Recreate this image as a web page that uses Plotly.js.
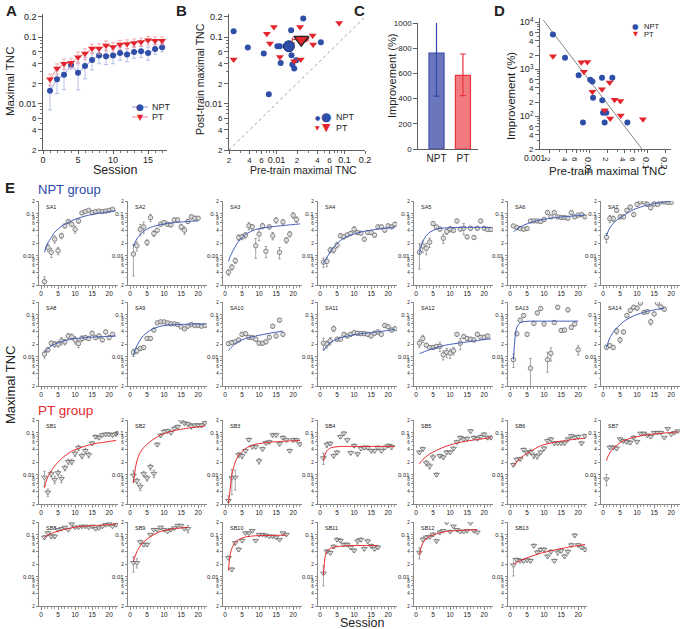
<!DOCTYPE html>
<html><head><meta charset="utf-8">
<script src="https://cdn.plot.ly/plotly-3.0.1.min.js"></script>
<style>body{margin:0;background:#fff}#chart{width:683px;height:629px}</style>
</head><body><div id="chart"></div><script>
// ---------- Panel A: mean maximal TNC per session ----------
const sessionsA = [1,2,3,4,5,6,7,8,9,10,11,12,13,14,15,16,17];
const nptA = [0.0155,0.0231,0.0271,0.0378,0.029,0.0365,0.045,0.0526,0.0515,0.0526,0.0576,0.0545,0.0597,0.061,0.0576,0.0662,0.07];
const nptAErr = [0.0075,0.009,0.011,0.005,0.013,0.013,0.013,0.013,0.013,0.013,0.013,0.012,0.012,0.012,0.013,0.011,0.01];
const ptA = [0.0231,0.0335,0.0396,0.041,0.0497,0.0563,0.067,0.067,0.0742,0.0709,0.077,0.0786,0.0814,0.0843,0.0892,0.0882,0.0882];
const ptAErr = [0.0045,0.006,0.007,0.006,0.01,0.01,0.011,0.012,0.013,0.012,0.012,0.012,0.012,0.012,0.013,0.012,0.012];

// ---------- Panels B & D: per subject ----------
const preNPT  = [0.00234,0.00378,0.00649,0.0077,0.0103,0.0112,0.0115,0.0164,0.0166,0.0171,0.0182,0.0194,0.0247,0.0449];
const postNPT = [0.122,0.0693,0.0564,0.0138,0.0726,0.0726,0.0408,0.126,0.053,0.0385,0.0336,0.0448,0.189,0.0834];
const imprNPT = [5470,1742,745,73,593,547,246,655,219,118,73,118,655,73];
const prePT   = [0.00234,0.00721,0.00916,0.008,0.0112,0.0164,0.0222,0.027,0.034,0.0182,0.0227,0.0345,0.0834];
const postPT  = [0.0458,0.112,0.141,0.0796,0.0502,0.0779,0.141,0.0925,0.105,0.0433,0.0458,0.077,0.163];
const imprPT  = [1890,1410,1420,877,330,375,520,223,209,134,89,103,86];
const meanPre  = [0.0152,0.0231];
const meanPost = [0.0726,0.0913];
const meanPreErr  = [0.0025,0.006];
const meanPostErr = [0.011,0.011];
const identityLine = [0.002,0.2];
const fitDx = [0.0016,0.0802];
const fitDy = [11000,20];

// ---------- Panel C ----------
const groups = ['NPT','PT'];
const improvement = [762,585];
const improvementUp = [246,169];
const improvementDown = [342,162];

// ---------- Panel E ----------
const fitGrid = [1,1.5,2,3,4,6,9,13,17,18,20,22];
const nptNames = ['SA1','SA2','SA3','SA4','SA5','SA6','SA7','SA8','SA9','SA10','SA11','SA12','SA13','SA14'];
const nptMeans = [
 [0.0024,0.0157,0.012,0.0247,0.0131,0.0297,0.0511,0.0648,0.056,0.0426,0.067,0.104,0.112,0.12,0.106,0.112,0.115,0.112,0.115,0.12,0.127],
 [0.0109,0.0172,0.0426,0.0484,0.0207,0.0804,0.0337,0.0404,0.056,0.0613,0.056,0.054,0.0709,0.0709,0.0484,0.0404,0.065,0.084,0.078,0.078],
 [0.004,0.0053,0.0076,0.0271,0.0281,0.0308,0.0511,0.0484,0.0172,0.0325,0.0511,0.0127,0.0484,0.0297,0.0698,0.012,0.0637,0.0234,0.0325,0.0915,0.0724],
 [0.007,0.0073,0.0136,0.0136,0.0178,0.0297,0.0281,0.0313,0.0337,0.0426,0.0355,0.0343,0.0247,0.0355,0.0355,0.0308,0.0484,0.0484,0.0404,0.0511,0.0484,0.056],
 [0.012,0.017,0.015,0.021,0.058,0.048,0.043,0.026,0.0375,0.043,0.04,0.067,0.043,0.045,0.028,0.045,0.027,0.045,0.067,0.045,0.042,0.042],
 [0.051,0.0467,0.0442,0.0426,0.0442,0.067,0.067,0.067,0.065,0.073,0.106,0.084,0.106,0.084,0.081,0.081,0.078,0.106,0.084,0.092,0.095,0.084],
 [0.0271,0.076,0.076,0.12,0.084,0.084,0.12,0.143,0.095,0.166,0.19,0.19,0.166,0.138,0.17,0.166,0.19,0.19,0.185,0.185],
 [0.0115,0.0146,0.0209,0.0198,0.0198,0.0237,0.0225,0.0311,0.0299,0.025,0.0205,0.0271,0.0284,0.0271,0.0361,0.0284,0.0311,0.025,0.0387,0.0284,0.034],
 [0.0126,0.0138,0.0156,0.0165,0.0271,0.0271,0.043,0.0638,0.0673,0.0673,0.0638,0.0604,0.0604,0.058,0.0514,0.046,0.053,0.058,0.055,0.055,0.053,0.055],
 [0.0205,0.0217,0.0225,0.025,0.034,0.0353,0.029,0.0284,0.026,0.0209,0.0209,0.0225,0.029,0.053,0.031,0.074,0.034],
 [0.0209,0.0198,0.0237,0.0461,0.026,0.026,0.034,0.0311,0.034,0.0372,0.0361,0.0353,0.0353,0.034,0.0311,0.0361,0.0387,0.034,0.0553,0.0514,0.043,0.0461],
 [0.0209,0.027,0.0188,0.0165,0.0165,0.0176,0.0176,0.0111,0.0126,0.0121,0.0138,0.034,0.0209,0.03,0.027,0.026,0.025,0.034,0.029,0.029,0.031],
 [0.0085,0.035,0.074,0.095,0.034,0.0053,0.062,0.11,0.14,0.06,0.0085,0.012,0.065,0.15,0.042,0.043,0.13,0.05,0.06,0.0146],
 [0.0167,0.0183,0.0165,0.0406,0.025,0.0387,0.0952,0.126,0.15,0.143,0.189,0.113,0.118,0.0673,0.104,0.19,0.152,0.135]
];
const nptRelErr = [
 [.3,.2,.25,.2,.2,.15,.1,.1,.12,.2,.12,.05,.05,.05,.05,.05,.05,.05,.05,.05,.05],
 [.7,.25,.3,.3,.15,.2,.15,.1,.1,.1,.1,.1,.1,.1,.15,.2,.1,.1,.1,.1],
 [.15,.15,.15,.15,.15,.15,.2,.15,.5,.3,.15,.3,.1,.2,.15,.3,.12,.15,.15,.15,.15],
 [.25,.25,.15,.15,.15,.1,.1,.1,.1,.15,.1,.1,.1,.1,.1,.1,.1,.1,.1,.1,.1,.1],
 [.6,.3,.3,.25,.1,.1,.1,.25,.15,.15,.1,.1,.1,.3,.1,.1,.1,.1,.1,.1,.1,.1],
 [.08,.08,.08,.08,.08,.08,.08,.08,.08,.08,.08,.08,.08,.08,.08,.08,.08,.08,.08,.08,.08,.08],
 [.25,.2,.15,.1,.1,.1,.1,.1,.1,.1,.05,.05,.1,.1,.1,.05,.05,.05,.05,.05],
 [.2,.12,.12,.15,.15,.2,.15,.15,.15,.2,.2,.15,.1,.1,.1,.1,.1,.1,.1,.1,.1],
 [.2,.15,.1,.1,.1,.1,.1,.05,.05,.05,.05,.05,.05,.05,.05,.05,.05,.05,.05,.05,.05,.05],
 [.1,.1,.1,.1,.1,.1,.1,.1,.1,.1,.1,.1,.1,.1,.1,.1,.1],
 [.3,.2,.2,.15,.1,.1,.1,.1,.1,.1,.1,.1,.1,.1,.1,.1,.1,.1,.1,.1,.1,.1],
 [.2,.2,.1,.1,.1,.1,.25,.25,.25,.25,.2,.1,.3,.1,.1,.1,.1,.1,.1,.1,.1],
 [.35,.1,.1,.1,.1,.7,.1,.1,.1,.1,.5,.35,.1,.1,.1,.1,.1,.1,.1,.25],
 [.1,.1,.1,.15,.15,.1,.1,.1,.1,.1,.1,.1,.1,.15,.1,.1,.1,.1]
];
const nptFits = [
 [0.012,0.016,0.02,0.027,0.036,0.05,0.068,0.088,0.102,0.105,0.111,0.117],
 [0.0163,0.021,0.025,0.032,0.038,0.047,0.055,0.061,0.065,0.066,0.067,null],
 [0.0073,0.0095,0.0115,0.0165,0.022,0.032,0.042,0.048,0.052,0.053,0.055,0.057],
 [0.0066,0.0078,0.009,0.0125,0.016,0.023,0.031,0.038,0.043,0.044,0.046,0.048],
 [0.011,0.017,0.022,0.03,0.036,0.043,0.046,0.047,0.047,0.047,0.047,0.047],
 [0.0376,0.04,0.043,0.048,0.053,0.061,0.071,0.08,0.086,0.087,0.09,0.092],
 [0.0297,0.038,0.046,0.059,0.07,0.09,0.125,0.16,0.185,0.19,0.198,null],
 [0.0126,0.014,0.0155,0.018,0.0198,0.0228,0.0262,0.0284,0.0298,0.03,0.0305,0.031],
 [0.0106,0.0145,0.018,0.025,0.032,0.043,0.053,0.058,0.059,0.0595,0.06,0.06],
 [0.0138,0.0155,0.017,0.0205,0.023,0.027,0.031,0.036,0.0406,null,null,null],
 [0.0138,0.016,0.018,0.0215,0.024,0.028,0.032,0.036,0.039,0.04,0.042,0.045],
 [0.0118,0.0122,0.0127,0.0137,0.0147,0.0165,0.019,0.0213,0.0236,0.0242,0.0255,0.0265],
 [0.0085,0.03,0.05,0.064,0.068,0.07,0.07,0.07,0.07,0.07,0.07,null],
 [0.0165,0.022,0.028,0.038,0.048,0.068,0.094,0.12,0.138,0.143,null,null]
];
const ptNames = ['SB1','SB2','SB3','SB4','SB5','SB6','SB7','SB8','SB9','SB10','SB11','SB12','SB13'];
const ptMeans = [
 [0.0086,0.0038,0.0104,0.0076,0.011,0.008,0.0145,0.0203,0.0203,0.0319,0.0439,0.028,0.037,0.0296,0.056,0.08,0.076,0.088,0.091,0.091,0.088,0.093],
 [0.0096,0.0071,0.0052,0.0104,0.0083,0.0153,0.0106,0.052,0.086,0.106,0.11,0.1,0.126,0.138,0.19,0.168,0.16,0.143,0.15,0.15,0.15,0.17],
 [0.0024,0.0083,0.0086,0.0296,0.028,0.037,0.068,0.046,0.046,0.021,0.041,0.057,0.06,0.088,0.088,0.054,0.076,0.067,0.037,0.067,0.067,0.053],
 [0.025,0.052,0.055,0.028,0.034,0.08,0.096,0.067,0.033,0.049,0.031,0.042,0.044,0.044,0.037,0.037,0.044,0.037,0.044,0.049,0.046],
 [0.034,0.041,0.019,0.016,0.026,0.01,0.028,0.026,0.034,0.034,0.042,0.06,0.076,0.07,0.072,0.109,0.076,0.072,0.08,0.091,0.076,0.076],
 [0.0172,0.0229,0.0237,0.0392,0.0328,0.0352,0.0284,0.0274,0.034,0.0421,0.0636,0.0698,0.0562,0.0562,0.0562,0.0562,0.0698,0.0836,0.0763,0.08,0.0562,0.0836],
 [0.0078,0.0445,0.0445,0.0421,0.0698,0.0636,0.0605,0.0582,0.0763,0.0605,0.096,0.096,0.0867,0.08,0.1,0.1,0.1,0.0763,0.124,0.0912,0.1,0.109],
 [0.0866,0.109,0.091,0.091,0.131,0.138,0.149,0.131,0.178,0.149,0.149,0.157,0.157,0.149,0.157,0.138,0.144,0.157,0.172,0.178,0.157,0.172],
 [0.0214,0.0214,0.0671,0.058,0.058,0.1,0.131,0.131,0.149,0.131,0.12,0.131,0.144,0.165,0.165,0.138,0.138],
 [0.0281,0.0149,0.0635,0.0442,0.072,0.109,0.109,0.124,0.072,0.1,0.1,0.0963,0.091,0.091,0.0866,0.076,0.109,0.1],
 [0.012,0.04,0.037,0.052,0.076,0.072,0.058,0.058,0.05,0.042,0.07,0.076,0.046,0.07,0.054,0.046,0.05],
 [0.0376,0.0771,0.0867,0.0886,0.101,0.0706,0.114,0.124,0.194,0.118,0.158,0.131,0.118,0.118,0.124,0.19,0.124,0.114],
 [0.0188,0.0253,0.0239,0.0239,0.0248,0.0239,0.0546,0.0379,0.0442,0.0442,0.0305,0.0394,0.0239,0.0379,0.0414,0.0305,0.0394,0.0567,0.0962,0.0567,0.0497,0.0442]
];
const ptRelErr = [
 [.4,.2,.15,.2,.15,.2,.15,.15,.15,.15,.15,.15,.15,.15,.1,.1,.1,.1,.1,.1,.1,.1],
 [.3,.15,.2,.15,.15,.15,.2,.1,.1,.1,.1,.1,.1,.1,.1,.1,.1,.15,.1,.1,.1,.1],
 [.3,.6,.5,.15,.15,.1,.1,.1,.1,.15,.1,.1,.1,.1,.1,.1,.1,.1,.1,.1,.1,.1],
 [.3,.15,.1,.1,.1,.1,.1,.1,.1,.1,.1,.1,.1,.1,.1,.1,.1,.1,.1,.1,.15],
 [.1,.1,.15,.15,.15,.1,.1,.1,.1,.1,.1,.1,.1,.1,.1,.1,.1,.1,.1,.1,.1,.1],
 [.1,.1,.1,.1,.15,.15,.15,.15,.1,.1,.1,.1,.1,.1,.1,.1,.1,.1,.1,.1,.1,.1],
 [.3,.1,.1,.1,.1,.1,.1,.1,.1,.1,.05,.05,.05,.05,.05,.05,.05,.05,.05,.05,.05,.05],
 [.1,.1,.1,.1,.05,.05,.05,.05,.05,.05,.05,.05,.05,.05,.05,.05,.05,.05,.05,.05,.05,.05],
 [.4,.25,.1,.1,.1,.05,.05,.05,.05,.05,.05,.05,.05,.05,.05,.05,.2],
 [.1,.1,.1,.1,.1,.05,.05,.05,.05,.05,.05,.05,.05,.05,.05,.05,.05,.05],
 [.5,.1,.1,.1,.1,.1,.1,.1,.1,.1,.15,.1,.1,.1,.1,.1,.1],
 [.3,.1,.1,.1,.1,.1,.1,.05,.05,.05,.05,.05,.05,.05,.05,.05,.05,.05],
 [.45,.1,.1,.1,.1,.1,.1,.1,.1,.1,.1,.1,.1,.15,.1,.1,.1,.1,.1,.1,.1,.1]
];
const ptFits = [
 [0.0049,0.007,0.0088,0.0125,0.016,0.024,0.036,0.048,0.057,0.058,0.062,0.065],
 [0.0063,0.013,0.021,0.034,0.044,0.062,0.088,0.112,0.128,0.131,0.137,0.143],
 [0.0021,0.0045,0.01,0.02,0.029,0.042,0.053,0.059,0.062,0.063,0.064,0.065],
 [0.021,0.031,0.037,0.043,0.045,0.047,0.047,0.047,0.047,0.047,0.047,0.047],
 [0.018,0.0205,0.023,0.027,0.031,0.038,0.048,0.059,0.067,0.069,0.072,0.076],
 [0.0159,0.018,0.0202,0.0245,0.0284,0.036,0.0487,0.059,0.066,0.068,0.071,0.0736],
 [0.0216,0.028,0.033,0.042,0.05,0.064,0.077,0.089,0.096,0.098,0.101,0.104],
 [0.087,0.092,0.097,0.106,0.114,0.128,0.146,0.16,0.167,0.169,0.173,0.178],
 [0.0235,0.031,0.039,0.054,0.067,0.09,0.12,0.138,0.149,null,null,null],
 [0.014,0.033,0.047,0.066,0.0762,0.088,0.094,0.096,0.0963,0.0965,null,null],
 [0.011,0.03,0.04,0.047,0.05,0.053,0.055,0.055,0.055,null,null,null],
 [0.034,0.05,0.063,0.08,0.09,0.105,0.12,0.127,0.13,0.131,null,null],
 [0.02,0.021,0.022,0.024,0.026,0.03,0.036,0.043,0.05,0.052,0.055,0.0585]
];

// ---------- Layout helpers ----------
const W=683,H=629;
const FONT='"Liberation Sans", Arial, sans-serif';
const BLUE='#2f4ea8', RED='#e3262d', AX='#3a3a3a', MK='#6a6a6a';
const L=Math.log10;
const px=x=>x/W, py=y=>1-y/H;
const xd=(a,b)=>[a/W,b/W], yd=(t,b)=>[1-b/H,1-t/H];
const sp=(t,s)=>'<span style="font-size:'+s+'px">'+t+'</span>';

const layout={width:W,height:H,margin:{l:0,r:0,t:0,b:0},paper_bgcolor:'#fff',plot_bgcolor:'rgba(0,0,0,0)',
  showlegend:false,barmode:'overlay',font:{family:FONT,color:'#222'},annotations:[],shapes:[]};
const traces=[];
function ax(extra){return Object.assign({showline:true,linecolor:AX,linewidth:0.8,ticks:'outside',tickcolor:AX,tickwidth:0.8,
  showgrid:false,zeroline:false,fixedrange:true,tickfont:{family:FONT,size:9,color:'#222'}},extra);}
function ann(text,x,y,size,o){layout.annotations.push(Object.assign({text,x:px(x),y:py(y),xref:'paper',yref:'paper',showarrow:false,
  xanchor:'center',yanchor:'middle',font:{family:FONT,size:size,color:'#222'}},o||{}));}

// tick sets
const logTV=[0.002,0.004,0.006,0.01,0.02,0.04,0.06,0.1,0.2];
const logTT=[sp('2',8),sp('4',8),sp('6',8),'0.01',sp('2',8),sp('4',8),sp('6',8),'0.1','0.2'];
const logMinor=[0.003,0.005,0.007,0.008,0.009,0.03,0.05,0.07,0.08,0.09];

// ---------- A ----------
layout.xaxis=ax({domain:xd(43,167),range:[0,17.7],anchor:'y',tickmode:'linear',tick0:0,dtick:5,ticklen:3,ticklabelstandoff:-2,
  minor:{tickmode:'linear',tick0:0,dtick:1,ticklen:2,ticks:'outside',tickcolor:AX,tickwidth:0.7}});
layout.yaxis=ax({domain:yd(14,150),type:'log',range:[L(0.002),L(0.2)+3/67],anchor:'x',tickmode:'array',tickvals:logTV,ticktext:logTT,ticklen:4,
  minor:{tickmode:'array',tickvals:logMinor,ticklen:2,ticks:'outside',tickcolor:AX,tickwidth:0.7}});
traces.push({type:'scatter',mode:'lines+markers',x:sessionsA,y:nptA,xaxis:'x',yaxis:'y',line:{color:'#8f9dd8',width:1},
  marker:{color:BLUE,size:6},error_y:{type:'data',array:nptAErr,color:'#a3afe0',thickness:0.8,width:2}});
traces.push({type:'scatter',mode:'lines+markers',x:sessionsA,y:ptA,xaxis:'x',yaxis:'y',line:{color:'#f08a8e',width:1},
  marker:{color:RED,size:7,symbol:'triangle-down'},error_y:{type:'data',array:ptAErr,color:'#f39a9d',thickness:0.8,width:2}});

// ---------- B ----------
layout.xaxis2=ax({domain:xd(229,365),type:'log',range:[L(0.002),L(0.2)],anchor:'y2',tickmode:'array',tickvals:logTV,ticktext:logTT,ticklen:3,ticklabelstandoff:-2,
  minor:{tickmode:'array',tickvals:logMinor,ticklen:2,ticks:'outside',tickcolor:AX,tickwidth:0.7}});
layout.yaxis2=ax({domain:yd(14,150),type:'log',range:[L(0.002),L(0.2)+3/67],anchor:'x2',tickmode:'array',tickvals:logTV,ticktext:logTT,ticklen:4,
  minor:{tickmode:'array',tickvals:logMinor,ticklen:2,ticks:'outside',tickcolor:AX,tickwidth:0.7}});
traces.push({type:'scatter',mode:'lines',x:identityLine,y:identityLine,xaxis:'x2',yaxis:'y2',line:{color:'#888',width:0.8,dash:'dot'}});
traces.push({type:'scatter',mode:'markers',x:preNPT,y:postNPT,xaxis:'x2',yaxis:'y2',marker:{color:BLUE,size:6}});
traces.push({type:'scatter',mode:'markers',x:prePT,y:postPT,xaxis:'x2',yaxis:'y2',marker:{color:RED,size:7,symbol:'triangle-down'}});
traces.push({type:'scatter',mode:'markers',x:[meanPre[0]],y:[meanPost[0]],xaxis:'x2',yaxis:'y2',marker:{color:BLUE,size:11,line:{color:'#1b2d6e',width:1}},
  error_x:{type:'data',array:[meanPreErr[0]],color:BLUE,thickness:1,width:2},error_y:{type:'data',array:[meanPostErr[0]],color:BLUE,thickness:1,width:2}});
traces.push({type:'scatter',mode:'markers',x:[meanPre[1]],y:[meanPost[1]],xaxis:'x2',yaxis:'y2',marker:{color:RED,size:13,symbol:'triangle-down',line:{color:'#222',width:1.3}},
  error_x:{type:'data',array:[meanPreErr[1]],color:RED,thickness:1,width:2},error_y:{type:'data',array:[meanPostErr[1]],color:RED,thickness:1,width:2}});

// ---------- C ----------
layout.xaxis3=ax({domain:xd(418,478),range:[-0.7,1.57],anchor:'y3',type:'category',ticks:'',tickfont:{family:FONT,size:10,color:'#222'}});
layout.yaxis3=ax({domain:yd(23,149),range:[0,1000],anchor:'x3',tickmode:'linear',tick0:0,dtick:200,ticklen:4,tickfont:{family:FONT,size:8,color:'#222'}});
traces.push({type:'bar',x:[groups[0]],y:[improvement[0]],xaxis:'x3',yaxis:'y3',width:0.57,marker:{color:'#6b76bd',line:{color:'#3c4fae',width:1.2}},
  error_y:{type:'data',symmetric:false,array:[improvementUp[0]],arrayminus:[improvementDown[0]],color:'#2f4aa8',thickness:1.2,width:3}});
traces.push({type:'bar',x:[groups[1]],y:[improvement[1]],xaxis:'x3',yaxis:'y3',width:0.57,marker:{color:'#f07a80',line:{color:'#e8353d',width:1.2}},
  error_y:{type:'data',symmetric:false,array:[improvementUp[1]],arrayminus:[improvementDown[1]],color:'#e8353d',thickness:1.2,width:3}});

// ---------- D ----------
layout.xaxis4=ax({domain:xd(540,671),type:'log',range:[L(0.002)-9/58,L(0.002)+122/58],anchor:'y4',tickmode:'array',tickvals:logTV,ticktext:logTT,ticklen:3,ticklabelstandoff:-2,
  minor:{tickmode:'array',tickvals:logMinor,ticklen:2,ticks:'outside',tickcolor:AX,tickwidth:0.7}});
layout.yaxis4=ax({domain:yd(18,149),type:'log',range:[L(20),L(20)+131/47],anchor:'x4',tickmode:'array',
  tickvals:[20,40,60,100,200,400,600,1000,2000,4000,6000,10000],
  ticktext:[sp('2',8),sp('4',8),sp('6',8),'10<sup>2</sup>',sp('2',8),sp('4',8),sp('6',8),'10<sup>3</sup>',sp('2',8),sp('4',8),sp('6',8),'10<sup>4</sup>'],ticklen:4,
  minor:{tickmode:'array',tickvals:[30,50,70,80,90,300,500,700,800,900,3000,5000,7000,8000,9000],ticklen:2,ticks:'outside',tickcolor:AX,tickwidth:0.7}});
traces.push({type:'scatter',mode:'lines',x:fitDx,y:fitDy,xaxis:'x4',yaxis:'y4',line:{color:'#777',width:0.9}});
traces.push({type:'scatter',mode:'markers',x:preNPT,y:imprNPT,xaxis:'x4',yaxis:'y4',marker:{color:BLUE,size:6}});
traces.push({type:'scatter',mode:'markers',x:prePT,y:imprPT,xaxis:'x4',yaxis:'y4',marker:{color:RED,size:7,symbol:'triangle-down'}});

// ---------- E small multiples ----------
const colX=[39,128,223,318,414,508,601];
const rowTop=[201,302,420,522];
const smTV=[0.002,0.004,0.006,0.008,0.01,0.02,0.04,0.06,0.08,0.1,0.2];
const smTT=[sp('2',4.5),sp('4',4.5),sp('6',4.5),sp('8',4.5),'0.01',sp('2',4.5),sp('4',4.5),sp('6',4.5),sp('8',4.5),'0.1',sp('2',4.5)];
const smMinor=[0.003,0.005,0.007,0.009,0.03,0.05,0.07,0.09];
let axn=5;
function addSubject(name,means,rel,fit,col,row,color,symbol){
  const n=axn++; const cx=colX[col], rt=rowTop[row];
  layout['xaxis'+n]=ax({domain:xd(cx,cx+79),range:[-0.6,22.6],anchor:'y'+n,tickmode:'linear',tick0:0,dtick:5,ticklen:3,
    tickfont:{family:FONT,size:6.5,color:'#222'},linewidth:0.6,tickwidth:0.6,
    minor:{tickmode:'linear',tick0:0,dtick:1,ticklen:2,ticks:'outside',tickcolor:AX,tickwidth:0.5}});
  layout['yaxis'+n]=ax({domain:yd(rt,rt+84),type:'log',range:[L(0.002),L(0.2)],anchor:'x'+n,tickmode:'array',tickvals:smTV,ticktext:smTT,
    ticklen:2.5,tickfont:{family:FONT,size:6,color:'#222'},linewidth:0.6,tickwidth:0.6,
    minor:{tickmode:'array',tickvals:smMinor,ticklen:1.5,ticks:'outside',tickcolor:AX,tickwidth:0.5}});
  const sess=means.map((_,i)=>i+1);
  traces.push({type:'scatter',mode:'markers',x:sess,y:means,xaxis:'x'+n,yaxis:'y'+n,
    marker:{symbol:symbol,size:symbol==='circle'?4.5:5,color:'rgba(225,225,225,0.7)',line:{color:MK,width:0.8}},
    error_y:{type:'data',array:means.map((v,i)=>v*rel[i]),color:MK,thickness:0.6,width:1.2}});
  traces.push({type:'scatter',mode:'lines',x:fitGrid,y:fit,xaxis:'x'+n,yaxis:'y'+n,line:{color:color,width:1,shape:'spline',smoothing:0.7}});
  ann(name,cx+5,rt+6,5.5,{xanchor:'left'});
}
nptNames.forEach((nm,i)=>addSubject(nm,nptMeans[i],nptRelErr[i],nptFits[i],i%7,Math.floor(i/7),'#3d5bb8','circle'));
ptNames.forEach((nm,i)=>addSubject(nm,ptMeans[i],ptRelErr[i],ptFits[i],i%7,2+Math.floor(i/7),'#e8262d','triangle-down'));

// ---------- text ----------
const bold=(t)=>'<b>'+t+'</b>';
ann(bold('A'),4,10,15,{xanchor:'left'});
ann(bold('B'),174,10,15,{xanchor:'left'});
ann(bold('C'),352,10,15,{xanchor:'left'});
ann(bold('D'),492,10,15,{xanchor:'left'});
ann(bold('E'),3,187,15,{xanchor:'left'});
ann('Maximal TNC',10,82,11.5,{textangle:-90});
ann('Session',115,170.5,12.5);
ann('Post-train maximal TNC',200,79,10.5,{textangle:-90});
ann('Pre-train maximal TNC',303,170,10.5);
ann('Improvement (%)',392,76,11,{textangle:-90});
ann('Improvement (%)',511,96,11.5,{textangle:-90});
ann('Pre-train maximal TNC',607,171,11.5);
ann('0.001',535,158,8.5);
ann('NPT group',36,190,13,{xanchor:'left',font:{family:FONT,size:13,color:'#2b48a8'}});
ann('PT group',36,410,13.5,{xanchor:'left',font:{family:FONT,size:13.5,color:RED}});
ann('Maximal TNC',10,385,13,{textangle:-90});
ann('Session',362,622.5,12.5);

// legends (drawn as text + line keys)
layout.shapes.push({type:'line',xref:'paper',yref:'paper',x0:px(132),x1:px(148),y0:py(107),y1:py(107),line:{color:'#8f9dd8',width:1}});
layout.shapes.push({type:'line',xref:'paper',yref:'paper',x0:px(132),x1:px(148),y0:py(117),y1:py(117),line:{color:'#f08a8e',width:1}});
ann('●',140,107,9,{font:{family:'DejaVu Sans',size:9,color:BLUE}});
ann('▼',140,117,8,{font:{family:'DejaVu Sans',size:8,color:RED}});
ann('NPT',150,107,9,{xanchor:'left'});
ann('PT',150,117,9,{xanchor:'left'});
ann('●',317,117,6,{font:{family:'DejaVu Sans',size:6,color:BLUE}});
ann('●',326,117,12,{font:{family:'DejaVu Sans',size:12,color:BLUE}});
ann('NPT',334,117,9,{xanchor:'left'});
ann('▼',317,128,6,{font:{family:'DejaVu Sans',size:6,color:RED}});
ann('▼',326,128,11,{font:{family:'DejaVu Sans',size:11,color:RED}});
ann('PT',334,128,9,{xanchor:'left'});
ann('●',635,26.5,7.5,{font:{family:'DejaVu Sans',size:7.5,color:BLUE}});
ann('NPT',642,26.5,7.5,{xanchor:'left'});
ann('▼',635,34,6.5,{font:{family:'DejaVu Sans',size:6.5,color:RED}});
ann('PT',642,34,7.5,{xanchor:'left'});

Plotly.newPlot('chart',traces,layout,{staticPlot:true,displayModeBar:false});
</script></body></html>
